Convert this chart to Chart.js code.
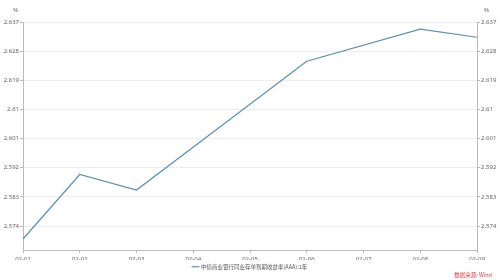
<!DOCTYPE html>
<html>
<head>
<meta charset="utf-8">
<script src="https://cdn.jsdelivr.net/npm/chart.js@4"></script>
<style>
  html, body { margin: 0; padding: 0; background: #fff; }
  #wrap { position: relative; width: 500px; height: 280px; }
  .unit { position: absolute; top: 6px; font: 6px "Noto Sans", sans-serif; color: #666; }
  #src { position: absolute; right: 8px; bottom: 1px; font: 5.5px "Noto Sans CJK SC", sans-serif; color: #e0393e; }
</style>
</head>
<body>
<div id="wrap">
  <canvas id="chart" width="500" height="280"></canvas>
  <div class="unit" style="left:13px">%</div>
  <div class="unit" style="left:484px">%</div>
  <div id="src">数据来源: Wind</div>
</div>
<script>
const categories = ["02-01","02-02","02-03","02-04","02-05","02-06","02-07","02-08","02-09"];
const rateValues = [2.5700, 2.5899, 2.5851, null, null, 2.6249, null, 2.6348, 2.6323];
const yTicks = [2.574, 2.583, 2.592, 2.601, 2.61, 2.619, 2.628, 2.637];
const yTickLabels = ["2.574","2.583","2.592","2.601","2.61","2.619","2.628","2.637"];
const seriesName = "中债商业银行同业存单到期收益率(AAA):1年";

const yMin = 2.5666, yMax = 2.637;
const tickFont = { family: "Noto Sans", size: 6 };

function fixTicks(scale) {
    scale.ticks = yTicks.map(v => ({ value: v }));
}
function fmt(v) {
    const i = yTicks.findIndex(t => Math.abs(t - v) < 1e-9);
    return i >= 0 ? yTickLabels[i] : "";
}

// keep the legend strip short, like the original
const legendHeight = {
    id: "legendHeight",
    afterInit(chart) {
        const fit = chart.legend.fit;
        chart.legend.fit = function() {
            fit.call(this);
            this.height = 14;
        };
    }
};

new Chart(document.getElementById("chart").getContext("2d"), {
    type: "line",
    data: {
        labels: categories,
        datasets: [{
            label: seriesName,
            data: rateValues,
            borderColor: "#5b8fb4",
            backgroundColor: "#5b8fb4",
            borderWidth: 1.2,
            pointRadius: 0,
            tension: 0,
            spanGaps: true,
            yAxisID: "y"
        }]
    },
    options: {
        responsive: false,
        animation: false,
        layout: { padding: { left: 0, right: 0, top: 22, bottom: 6 } },
        plugins: {
            legend: {
                position: "bottom",
                labels: {
                    font: { family: "Noto Sans CJK SC", size: 5.5 },
                    color: "#555",
                    usePointStyle: true,
                    pointStyle: "line",
                    boxWidth: 8,
                    padding: 4
                }
            },
            tooltip: { enabled: false }
        },
        scales: {
            x: {
                offset: false,
                grid: { drawOnChartArea: false, drawTicks: true, tickLength: 3, color: "#bbb" },
                border: { color: "#bbb" },
                ticks: { font: tickFont, color: "#666", padding: 3, maxRotation: 0, autoSkip: false },
                afterFit: s => { s.height = 10; }
            },
            y: {
                position: "left",
                min: yMin, max: yMax,
                afterBuildTicks: fixTicks,
                grid: { color: "#eee", tickLength: 3, tickColor: "#bbb" },
                border: { color: "#bbb" },
                ticks: { font: tickFont, color: "#666", padding: 1, callback: v => fmt(v) },
                afterFit: s => { s.width = 23; }
            },
            y1: {
                position: "right",
                min: yMin, max: yMax,
                afterBuildTicks: fixTicks,
                grid: { drawOnChartArea: false, tickLength: 3, tickColor: "#bbb" },
                border: { color: "#bbb" },
                ticks: { font: tickFont, color: "#666", padding: 1, callback: v => fmt(v) },
                afterFit: s => { s.width = 23; }
            }
        }
    },
    plugins: [legendHeight]
});
</script>
</body>
</html>
